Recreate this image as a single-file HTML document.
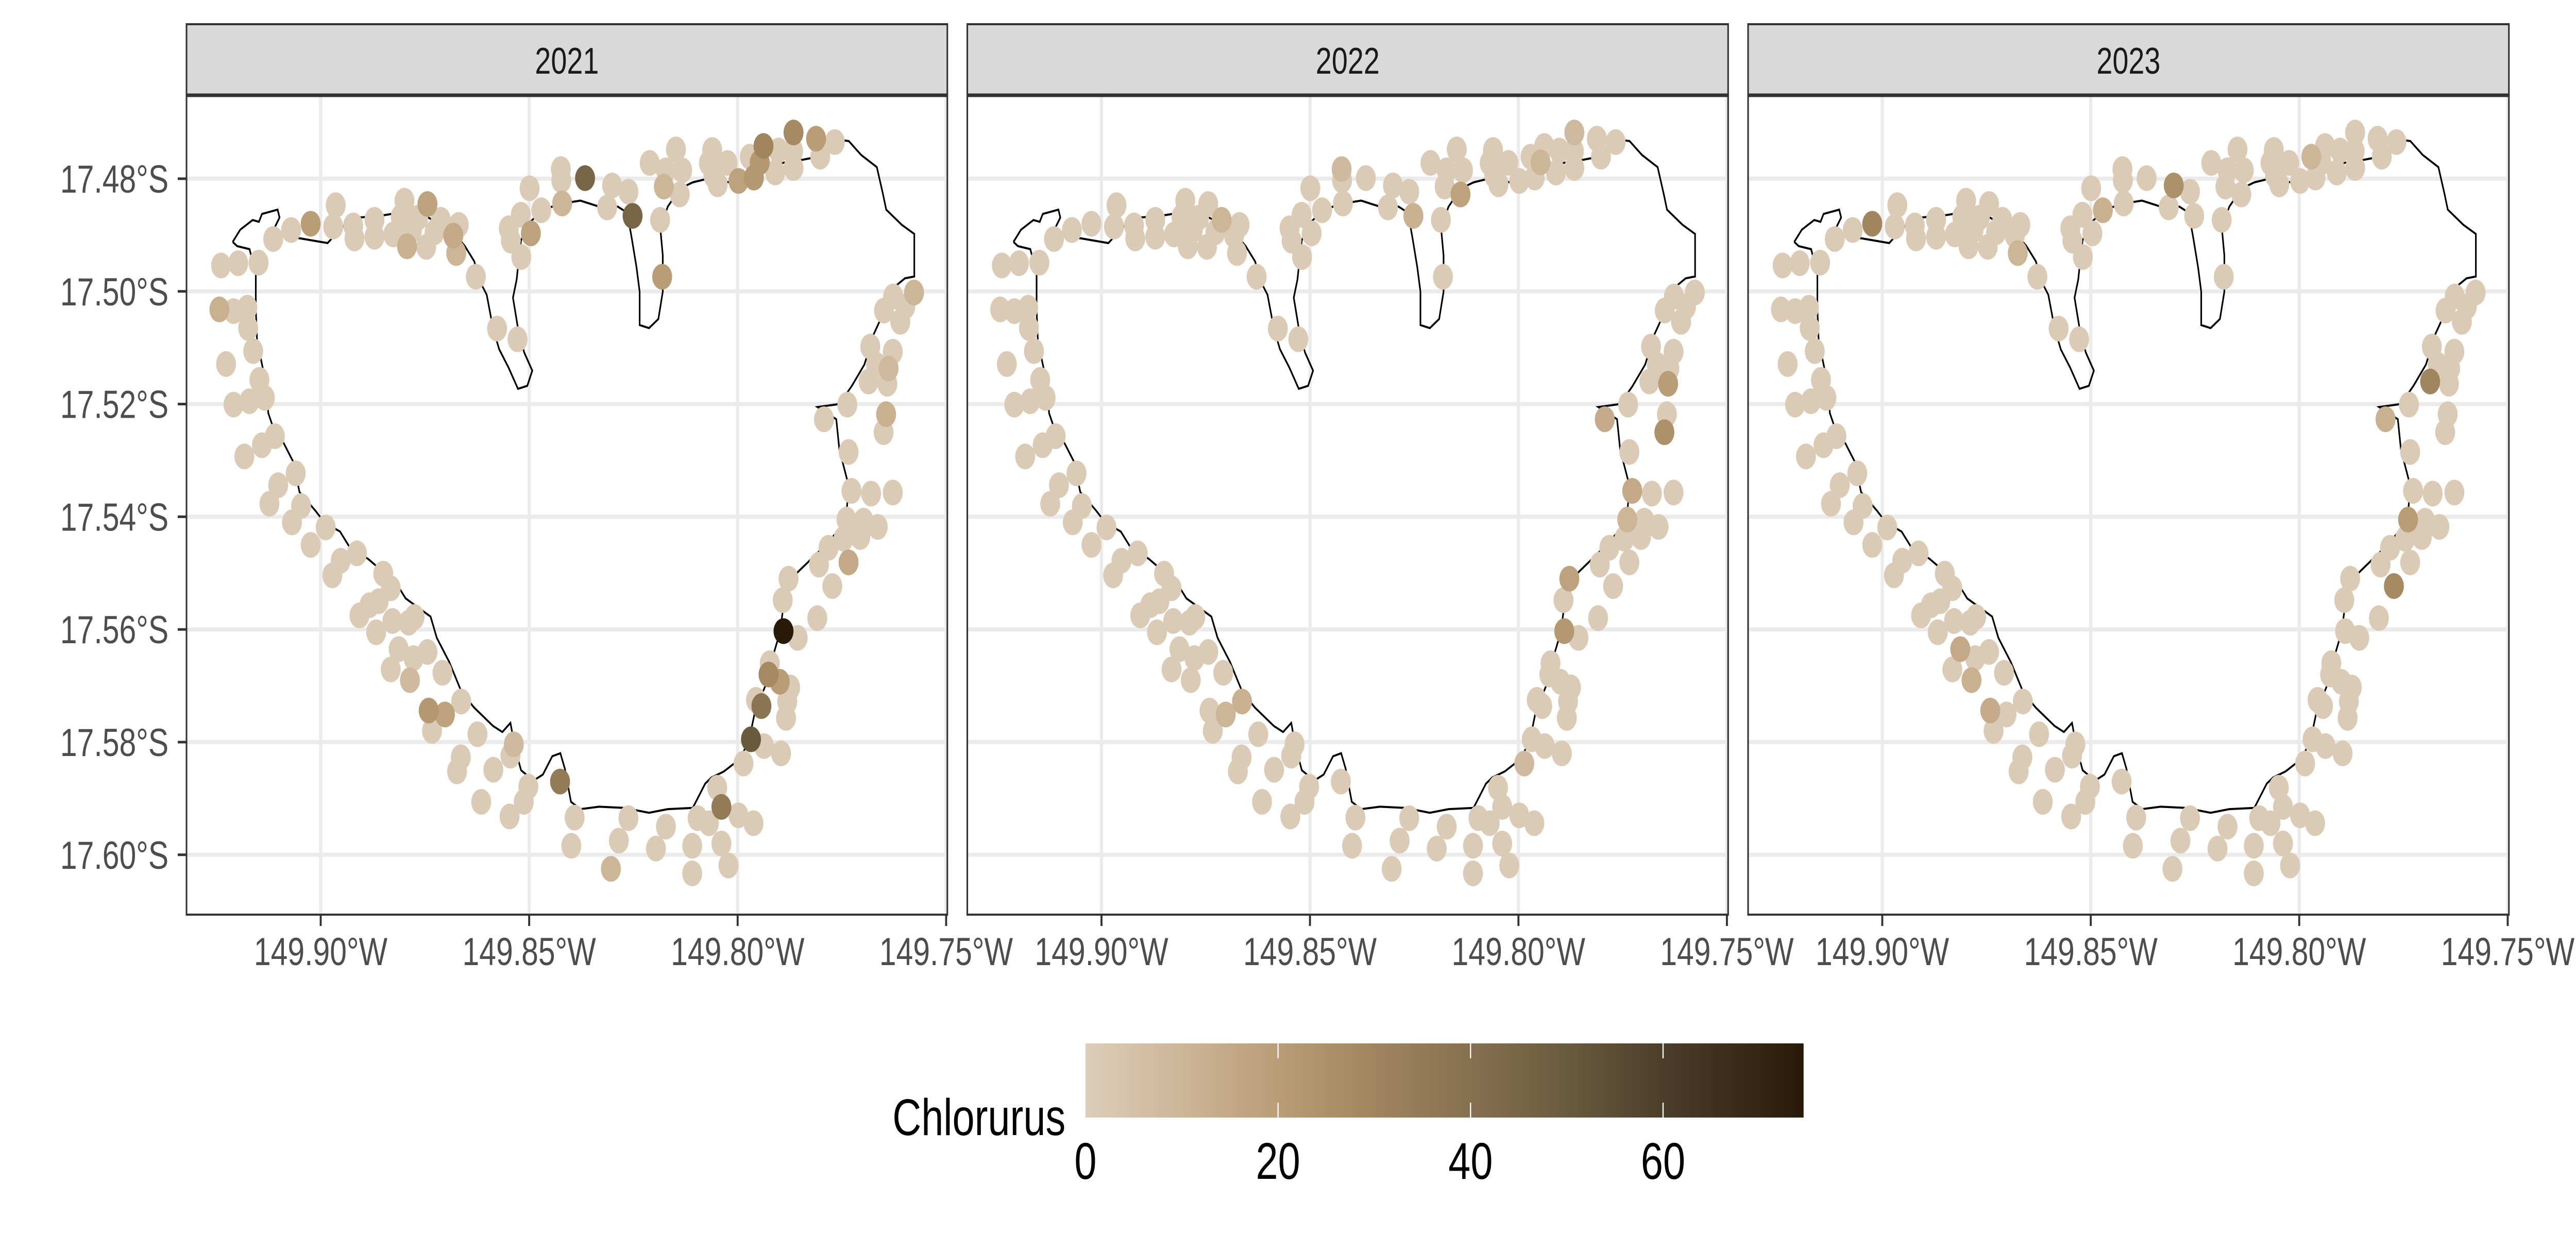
<!DOCTYPE html>
<html><head><meta charset="utf-8">
<style>
html,body{margin:0;padding:0;background:#fff;width:100%;height:100%;overflow:hidden;}
svg{display:block;width:100vw;height:100vh;font-family:"Liberation Sans",Arial,sans-serif;}
</style></head>
<body>
<svg id="chart" viewBox="0 0 6450 2400" preserveAspectRatio="none" xmlns="http://www.w3.org/2000/svg">
<defs>
<linearGradient id="cgrad" x1="0" x2="1" y1="0" y2="0">
<stop offset="0" stop-color="#DDCDB9"/><stop offset="0.134" stop-color="#CDB598"/><stop offset="0.268" stop-color="#B99D77"/><stop offset="0.402" stop-color="#A0855F"/><stop offset="0.536" stop-color="#867050"/><stop offset="0.670" stop-color="#6A5A3E"/><stop offset="0.804" stop-color="#4C3E2A"/><stop offset="1" stop-color="#281A06"/>
</linearGradient>
</defs>
<g id="panels"></g>
<g id="legend">
<text x="2668" y="2204" font-size="100" text-anchor="end" fill="#000">Chlorurus</text>
<rect x="2718" y="2026" width="1798" height="144" fill="url(#cgrad)"/>
</g>
</svg>
<script>
const years = ["2021","2022","2023"];
const siteLonW = [149.9239,149.9198,149.9149,149.9114,149.9071,149.9024,149.8964,149.8970,149.8922,149.8919,149.8871,149.8871,149.8826,149.8799,149.8808,149.8793,149.8781,149.8766,149.8744,149.8747,149.8727,149.8712,149.8682,149.8675,149.8669,149.8628,149.9243,149.9209,149.9176,149.9174,149.9162,149.9227,149.9147,149.9209,149.9171,149.9134,149.9110,149.9141,149.9183,149.9060,149.9102,149.9123,149.9047,149.9069,149.8988,149.9024,149.8913,149.8952,149.8972,149.8850,149.8832,149.8861,149.8883,149.8907,149.8828,149.8789,149.8775,149.8867,149.8813,149.8777,149.8744,149.8832,149.8786,149.8708,149.8741,149.8702,149.8663,149.8733,149.8624,149.8664,149.8673,149.8586,149.8615,149.8545,149.8537,149.8547,149.8513,149.8502,149.8426,149.8391,149.8399,149.8304,149.8285,149.8262,149.8196,149.8172,149.8109,149.8109,149.8096,149.8069,149.8049,149.8039,149.8039,149.8022,149.7998,149.7962,149.7986,149.7968,149.7937,149.7896,149.7956,149.7943,149.7926,149.7923,149.7899,149.7874,149.7881,149.7884,149.7890,149.7856,149.7892,149.7878,149.7809,149.7805,149.7773,149.7734,149.7782,149.7746,149.7739,149.7706,149.7698,149.7664,149.7727,149.7680,149.7628,149.7734,149.7650,149.7644,149.7793,149.7737,149.7686,149.7641,149.7638,149.7668,149.7682,149.7628,149.7649,149.7627,149.7610,149.7598,149.7577,149.8499,149.8520,149.8496,149.8549,149.8544,149.8519,149.8471,149.8421,149.8424,149.8423,149.8366,149.8313,149.8301,149.8262,149.8252,149.8186,149.8181,149.8577,149.8528,149.8211,149.8177,149.8172,149.8148,149.8139,149.8133,149.8061,149.8069,149.8058,149.8048,149.8024,149.7998,149.7971,149.7961,149.7947,149.7938,149.7910,149.7902,149.7867,149.7866,149.7866,149.7812,149.7802,149.7767];
const siteLatS = [17.4954,17.4950,17.4949,17.4907,17.4891,17.4880,17.4847,17.4885,17.4883,17.4906,17.4873,17.4903,17.4899,17.4839,17.4868,17.4920,17.4891,17.4869,17.4845,17.4921,17.4895,17.4873,17.4901,17.4932,17.4882,17.4974,17.5032,17.5035,17.5029,17.5065,17.5106,17.5129,17.5157,17.5201,17.5195,17.5189,17.5257,17.5273,17.5293,17.5323,17.5344,17.5377,17.5381,17.5410,17.5419,17.5450,17.5465,17.5478,17.5504,17.5501,17.5527,17.5550,17.5557,17.5575,17.5585,17.5588,17.5578,17.5605,17.5635,17.5651,17.5640,17.5671,17.5690,17.5677,17.5744,17.5751,17.5728,17.5780,17.5786,17.5827,17.5852,17.5849,17.5906,17.5824,17.5804,17.5932,17.5906,17.5879,17.5870,17.5934,17.5984,17.6025,17.5975,17.5935,17.5989,17.5950,17.5984,17.6033,17.5935,17.5944,17.5881,17.5915,17.5980,17.6019,17.5930,17.5944,17.5838,17.5795,17.5807,17.5820,17.5725,17.5736,17.5680,17.5660,17.5693,17.5703,17.5728,17.5757,17.5603,17.5615,17.5548,17.5510,17.5580,17.5485,17.5523,17.5481,17.5455,17.5439,17.5405,17.5436,17.5407,17.5418,17.5354,17.5359,17.5357,17.5285,17.5250,17.5218,17.5227,17.5201,17.5160,17.5164,17.5137,17.5130,17.5098,17.5107,17.5034,17.5009,17.5054,17.5027,17.5002,17.4817,17.4864,17.4897,17.4888,17.4910,17.4939,17.4856,17.4844,17.4783,17.4803,17.4799,17.4851,17.4812,17.4823,17.4866,17.4873,17.4974,17.5066,17.5085,17.4772,17.4814,17.4785,17.4748,17.4828,17.4785,17.4749,17.4772,17.4794,17.4810,17.4772,17.4804,17.4761,17.4798,17.4771,17.4742,17.4789,17.4750,17.4751,17.4781,17.4718,17.4729,17.4761,17.4735];
const vals2021 = {5:20,15:12,18:18,22:15,23:10,26:12,62:8,64:22,65:18,74:8,78:35,81:10,91:35,97:50,101:38,102:28,104:20,108:75,115:15,127:12,132:8,140:10,143:18,148:10,151:45,155:45,157:20,161:10,171:18,173:22,174:22,175:30,180:28,181:20};
const vals2022 = {131:20,126:25,122:15,111:18,108:22,164:18,155:12,174:10,66:12,65:10,149:8,128:14,118:10,96:8,21:10,180:8};
const vals2023 = {5:30,153:25,130:30,114:28,118:20,58:15,64:14,62:12,23:10,172:10,128:12,147:12};
const valsByYear = [vals2021, vals2022, vals2023];
const legendTicks = [0,20,40,60];
const xTicks = [149.90,149.85,149.80,149.75];
const yTicks = [17.48,17.50,17.52,17.54,17.56,17.58,17.60];
const coastRaw = [[373,398],[385,378],[405,362],[415,365],[420,352],[445,345],[448,358],[440,375],[455,390],[480,392],[525,400],[550,372],[575,358],[610,355],[640,350],[680,355],[720,375],[745,405],[760,430],[770,465],[780,485],[790,540],[800,575],[815,605],[830,640],[845,635],[853,610],[840,580],[830,540],[822,490],[828,460],[832,420],[835,395],[850,365],[870,345],[900,335],[930,330],[960,340],[990,340],[1005,350],[1012,390],[1020,440],[1025,480],[1025,535],[1040,540],[1055,525],[1062,480],[1062,420],[1058,375],[1070,340],[1090,310],[1110,300],[1130,295],[1170,300],[1185,290],[1210,280],[1240,270],[1275,265],[1300,260],[1320,250],[1345,230],[1360,232],[1380,255],[1405,275],[1415,320],[1420,345],[1445,370],[1465,385],[1465,455],[1450,458],[1430,475],[1420,505],[1400,550],[1385,600],[1365,635],[1345,665],[1310,670],[1340,690],[1345,740],[1360,800],[1355,860],[1320,900],[1290,930],[1260,960],[1255,1000],[1250,1040],[1240,1075],[1230,1120],[1210,1170],[1200,1220],[1185,1250],[1160,1270],[1140,1280],[1130,1290],[1110,1330],[1070,1332],[1040,1338],[1000,1330],[960,1328],[930,1332],[915,1320],[905,1265],[898,1240],[885,1245],[870,1275],[855,1285],[835,1268],[825,1230],[818,1190],[805,1205],[790,1195],[760,1165],[740,1140],[720,1090],[700,1050],[690,1015],[670,1000],[650,985],[635,960],[590,920],[560,900],[545,875],[520,860],[505,840],[480,810],[470,760],[455,730],[440,710],[430,680],[428,640],[420,600],[412,560],[410,510],[410,450],[400,410],[380,405],[373,398]];

const NS="http://www.w3.org/2000/svg";
function mk(t,a,p){const e=document.createElementNS(NS,t);for(const k in a)e.setAttribute(k,a[k]);p.appendChild(e);return e;}
const panelW=1905, gap=50, firstLeft=467, stripTop=47, stripBot=185, plotBot=1776;
function xScale(lonW,pi){return firstLeft+pi*(panelW+gap)+336+(149.90-lonW)*10440;}
function yScale(lat){return 347+(lat-17.48)*10940;}
const stops=[[0,[221,205,185]],[10,[205,181,152]],[20,[185,157,119]],[30,[160,133,95]],[40,[134,112,80]],[50,[106,90,62]],[60,[76,62,42]],[74.6,[40,26,6]]];
function col(v){for(let i=1;i<stops.length;i++){if(v<=stops[i][0]){const a=stops[i-1],b=stops[i],t=(v-a[0])/(b[0]-a[0]);return "rgb("+a[1].map((c,j)=>Math.round(c+(b[1][j]-c)*t)).join(",")+")";}}return "rgb(40,26,6)";}
const coastLL = coastRaw.map(p=>[149.90-(p[0]-514)*0.0001497, 17.48+(p[1]-294)*0.0001078]);

const root=document.getElementById('panels');
years.forEach((yr,pi)=>{
  const L=firstLeft+pi*(panelW+gap), R=L+panelW;
  const g=mk('g',{},root);
  
  
  yTicks.forEach(t=>{const l=mk('line',{x1:L,x2:R,y1:yScale(t),y2:yScale(t),stroke:'#EBEBEB','stroke-width':8},g);
    
    });
  xTicks.forEach(t=>{const l=mk('line',{x1:xScale(t,pi),x2:xScale(t,pi),y1:stripBot,y2:plotBot,stroke:'#EBEBEB','stroke-width':8},g);
    
    });
  const d=coastLL.map((p,i)=>(i?'L':'M')+xScale(p[0],pi).toFixed(1)+' '+yScale(p[1]).toFixed(1)).join(' ');
  const cp=mk('path',{d:d,fill:'none',stroke:'#000','stroke-width':4},g);
  
  
  const vals=valsByYear[pi];
  const order=siteLonW.map((_,i)=>i).sort((a,b)=>(vals[a]||1)-(vals[b]||1));
  order.forEach(i=>{const v=vals[i]||1;
    const c=mk('circle',{cx:xScale(siteLonW[i],pi).toFixed(1),cy:yScale(siteLatS[i]).toFixed(1),r:25,fill:col(v)},g);
    
    });
  const fr=mk('rect',{x:L,y:stripBot,width:panelW,height:plotBot-stripBot,fill:'none',stroke:'#333','stroke-width':4},g);
  
  
  const st=mk('rect',{x:L,y:stripTop,width:panelW,height:stripBot-stripTop,fill:'#D9D9D9',stroke:'#333','stroke-width':4},g);
  
  
  const sl=mk('line',{x1:L,x2:R,y1:stripBot,y2:stripBot,stroke:'#333','stroke-width':7},g);
  
  
  const stt=mk('text',{x:(L+R)/2,y:143,'font-size':72,'text-anchor':'middle',fill:'#1A1A1A'},g);
  stt.textContent=yr;
  
  
  xTicks.forEach(t=>{const x=xScale(t,pi);
    const tk=mk('line',{x1:x,x2:x,y1:plotBot,y2:plotBot+22,stroke:'#333','stroke-width':5},g);
    
    
    const tx=mk('text',{x:x,y:1874,'font-size':76,'text-anchor':'middle',fill:'#4D4D4D'},g);
    tx.textContent=t.toFixed(2)+'°W';
    
    });
  if(pi===0){yTicks.forEach(t=>{const y=yScale(t);
    const tk=mk('line',{x1:L-22,x2:L,y1:y,y2:y,stroke:'#333','stroke-width':5},g);
    
    
    const tx=mk('text',{x:422,y:y+27,'font-size':76,'text-anchor':'end',fill:'#4D4D4D'},g);
    tx.textContent=t.toFixed(2)+'°S';
    
    });}
});
const lg=document.getElementById('legend');
const lx=v=>2718+v*(1798/74.6);
legendTicks.forEach(v=>{
  if(v>0){[[2026,2055],[2141,2170]].forEach(s=>{const l=mk('line',{x1:lx(v),x2:lx(v),y1:s[0],y2:s[1],stroke:'#fff','stroke-width':3},lg);
    
    });}
  const t=mk('text',{x:lx(v),y:2289,'font-size':100,'text-anchor':'middle',fill:'#000'},lg);
  t.textContent=v;
  
  
});
</script>
</body></html>
